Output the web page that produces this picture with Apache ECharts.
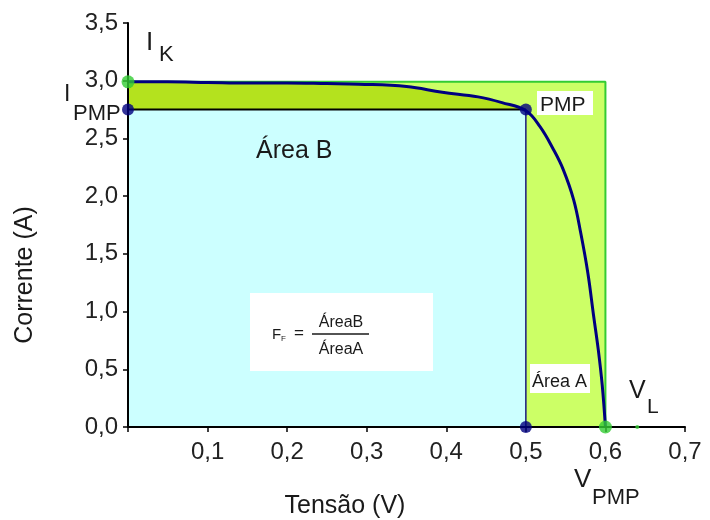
<!DOCTYPE html>
<html>
<head>
<meta charset="utf-8">
<script src="https://cdn.jsdelivr.net/npm/echarts@6/dist/echarts.min.js"></script>
<style>html,body{margin:0;padding:0;background:#fff}#c{width:710px;height:520px}</style>
</head>
<body>
<div id="c"></div>
<script>
// I-V curve of the cell (Tensão V, Corrente A)
const voltage = [0, 0.05, 0.1, 0.15, 0.2, 0.25, 0.29, 0.35, 0.395, 0.44, 0.47, 0.5, 0.518, 0.535, 0.547, 0.56, 0.569, 0.578, 0.585, 0.591, 0.596, 0.6];
const current = [2.99, 2.99, 2.985, 2.98, 2.98, 2.975, 2.97, 2.95, 2.90, 2.86, 2.81, 2.74, 2.60, 2.40, 2.23, 1.97, 1.68, 1.33, 0.97, 0.67, 0.36, 0];
// Key points
const Isc = 2.99;   // I_K
const Voc = 0.6;    // end of curve
const Vmpp = 0.5;
const Impp = 2.75;
const smallMarkV = [0.64];
const xTicks = [0, 0.7, 0.1];
const yTicks = [0, 3.5, 0.5];

const FONT = "'Liberation Sans', Arial, sans-serif";
const fmt = v => v.toFixed(1).replace('.', ',');

const curve = voltage.map((v, i) => [v, current[i]]);
const curveLeft = curve.filter(p => p[0] <= Vmpp);

const chart = echarts.init(document.getElementById('c'), null, {renderer: 'canvas'});

// y is the vertical centre of the capital letters
function txt(text, x, y, size, extra) {
  return {
    type: 'text', z: 100, x: x, y: y,
    style: Object.assign({text: text, font: size + 'px ' + FONT, fill: '#1a1a1a', align: 'left', verticalAlign: 'middle'}, extra || {})
  };
}

chart.setOption({
  animation: false,
  grid: {left: 128, right: 25, top: 23, bottom: 93, containLabel: false},
  xAxis: {
    type: 'value', min: xTicks[0], max: xTicks[1], interval: xTicks[2], z: 10,
    axisLine: {show: true, onZero: false, lineStyle: {color: '#000', width: 2}},
    axisTick: {show: true, inside: false, length: 5, lineStyle: {color: '#000', width: 1.5}},
    splitLine: {show: false},
    axisLabel: {margin: 13, fontSize: 24, fontFamily: FONT, color: '#222',
      formatter: v => (v === 0 ? '' : fmt(v))}
  },
  yAxis: {
    type: 'value', min: yTicks[0], max: yTicks[1], interval: yTicks[2], z: 10,
    axisLine: {show: true, onZero: false, lineStyle: {color: '#000', width: 2}},
    axisTick: {show: true, inside: false, length: 5, lineStyle: {color: '#000', width: 1.5}},
    splitLine: {show: false},
    axisLabel: {margin: 10, fontSize: 24, fontFamily: FONT, color: '#222', formatter: fmt}
  },
  series: [
    { // Área A rectangle
      type: 'line', z: 1, silent: true, symbol: 'none', clip: false,
      data: [[0, Isc], [Voc, Isc], [Voc, 0]],
      lineStyle: {color: '#33cc33', width: 2},
      areaStyle: {color: '#ccff66', opacity: 1}
    },
    { // region under curve left of PMP
      type: 'line', z: 2, silent: true, symbol: 'none', smooth: 0.4,
      data: curveLeft,
      lineStyle: {width: 0, opacity: 0},
      areaStyle: {color: '#b4e21e', opacity: 1}
    },
    { // Área B rectangle
      type: 'line', z: 3, silent: true, symbol: 'none',
      data: [[0, Impp], [Vmpp, Impp]],
      lineStyle: {color: '#000', width: 2},
      areaStyle: {color: '#ccffff', opacity: 1}
    },
    { // vertical at V_PMP
      type: 'line', z: 4, silent: true, symbol: 'none',
      data: [[Vmpp, 0], [Vmpp, Impp]],
      lineStyle: {color: '#1a1a80', width: 1.5}
    },
    { // I-V curve
      type: 'line', z: 5, silent: true, symbol: 'none', smooth: 0.4,
      data: curve,
      lineStyle: {color: '#000080', width: 3}
    },
    { // green points
      type: 'scatter', z: 20, silent: true, clip: false, symbolSize: 13,
      data: [[0, Isc], [Voc, 0]],
      itemStyle: {color: '#33cc33'}
    },
    { // navy points
      type: 'scatter', z: 20, silent: true, clip: false, symbolSize: 12,
      data: [[0, Impp], [Vmpp, Impp], [Vmpp, 0]],
      itemStyle: {color: '#000080'}
    },
    { // tiny mark near V_L
      type: 'scatter', z: 20, silent: true, clip: false, symbolSize: 4,
      data: smallMarkV.map(v => [v, 0]),
      itemStyle: {color: '#33cc33'}
    }
  ],
  graphic: [
    // axis names
    txt('Tensão (V)', 345, 506, 25, {align: 'center'}),
    {type: 'text', z: 100, x: 25, y: 275, rotation: Math.PI / 2,
      style: {text: 'Corrente (A)', font: '25px ' + FONT, fill: '#1a1a1a', align: 'center', verticalAlign: 'middle'}},
    // I_K
    txt('I', 146, 43, 26), txt('K', 159, 55, 22),
    // I_PMP
    txt('I', 64, 95, 23), txt('PMP', 73, 114, 22),
    // PMP box
    {type: 'rect', z: 90, shape: {x: 537, y: 91, width: 56, height: 24}, style: {fill: '#fff'}},
    txt('PMP', 540, 105, 21),
    // Área B
    txt('Área B', 256, 151, 25),
    // formula box
    {type: 'rect', z: 90, shape: {x: 250, y: 293, width: 183, height: 78}, style: {fill: '#fff'}},
    txt('F', 272, 335, 15), txt('F', 281, 339, 8), txt('=', 294, 333, 17),
    txt('ÁreaB', 341, 323, 16, {align: 'center'}),
    {type: 'line', z: 100, shape: {x1: 312, y1: 334, x2: 369, y2: 334}, style: {stroke: '#1a1a1a', lineWidth: 1.5}},
    txt('ÁreaA', 341, 350, 16, {align: 'center'}),
    // Área A box
    {type: 'rect', z: 90, shape: {x: 530, y: 364, width: 60, height: 29}, style: {fill: '#fff'}},
    txt('Área A', 532, 382, 18),
    // V_L
    txt('V', 629, 391, 25), txt('L', 647, 407, 21),
    // V_PMP
    txt('V', 574, 480, 26), txt('PMP', 592, 498, 22)
  ]
});
</script>
</body>
</html>
